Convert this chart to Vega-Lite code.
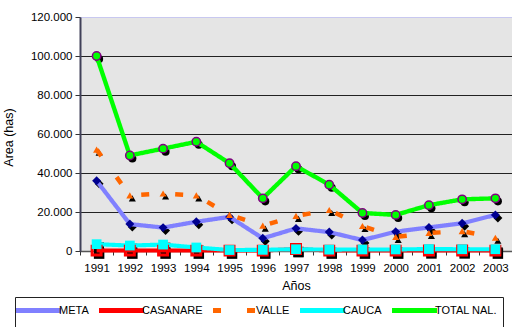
{
  "$schema": "https://vega.github.io/schema/vega-lite/v6.json",
  "width": 432,
  "height": 234,
  "autosize": {"type": "none"},
  "padding": {"left": 80, "top": 17, "right": 0, "bottom": 76},
  "background": "white",
  "config": {
    "font": "Liberation Sans",
    "view": {"fill": "#e5e5e5", "stroke": "#9a9aa8", "strokeWidth": 1},
    "axis": {"labelFont": "Liberation Sans", "titleFont": "Liberation Sans", "labelColor": "black", "titleColor": "black", "labelFontSize": 11.5, "titleFontSize": 12.5, "titleFontWeight": "normal"},
    "legend": {"labelFont": "Liberation Sans"}
  },
  "data": {"values": [
    {"year": "1991", "series": "META", "value": 36000},
    {"year": "1992", "series": "META", "value": 13800},
    {"year": "1993", "series": "META", "value": 12000},
    {"year": "1994", "series": "META", "value": 15000},
    {"year": "1995", "series": "META", "value": 17500},
    {"year": "1996", "series": "META", "value": 6500},
    {"year": "1997", "series": "META", "value": 11600},
    {"year": "1998", "series": "META", "value": 9700},
    {"year": "1999", "series": "META", "value": 5600},
    {"year": "2000", "series": "META", "value": 9900},
    {"year": "2001", "series": "META", "value": 12100},
    {"year": "2002", "series": "META", "value": 14200},
    {"year": "2003", "series": "META", "value": 18500},
    {"year": "1991", "series": "CASANARE", "value": 200},
    {"year": "1992", "series": "CASANARE", "value": 200},
    {"year": "1993", "series": "CASANARE", "value": 200},
    {"year": "1994", "series": "CASANARE", "value": 200},
    {"year": "1995", "series": "CASANARE", "value": 200},
    {"year": "1996", "series": "CASANARE", "value": 200},
    {"year": "1997", "series": "CASANARE", "value": 1000},
    {"year": "1998", "series": "CASANARE", "value": 200},
    {"year": "1999", "series": "CASANARE", "value": 200},
    {"year": "2000", "series": "CASANARE", "value": 200},
    {"year": "2001", "series": "CASANARE", "value": 300},
    {"year": "2002", "series": "CASANARE", "value": 300},
    {"year": "2003", "series": "CASANARE", "value": 200},
    {"year": "1991", "series": "VALLE", "value": 52000},
    {"year": "1992", "series": "VALLE", "value": 28500},
    {"year": "1993", "series": "VALLE", "value": 29500},
    {"year": "1994", "series": "VALLE", "value": 28500},
    {"year": "1995", "series": "VALLE", "value": 18500},
    {"year": "1996", "series": "VALLE", "value": 13000},
    {"year": "1997", "series": "VALLE", "value": 18000},
    {"year": "1998", "series": "VALLE", "value": 21000},
    {"year": "1999", "series": "VALLE", "value": 12800},
    {"year": "2000", "series": "VALLE", "value": 7200},
    {"year": "2001", "series": "VALLE", "value": 9200},
    {"year": "2002", "series": "VALLE", "value": 10200},
    {"year": "2003", "series": "VALLE", "value": 6800},
    {"year": "1991", "series": "CAUCA", "value": 3500},
    {"year": "1992", "series": "CAUCA", "value": 2800},
    {"year": "1993", "series": "CAUCA", "value": 3300},
    {"year": "1994", "series": "CAUCA", "value": 1800},
    {"year": "1995", "series": "CAUCA", "value": 500},
    {"year": "1996", "series": "CAUCA", "value": 600},
    {"year": "1997", "series": "CAUCA", "value": 900},
    {"year": "1998", "series": "CAUCA", "value": 700},
    {"year": "1999", "series": "CAUCA", "value": 800},
    {"year": "2000", "series": "CAUCA", "value": 800},
    {"year": "2001", "series": "CAUCA", "value": 1000},
    {"year": "2002", "series": "CAUCA", "value": 900},
    {"year": "2003", "series": "CAUCA", "value": 900},
    {"year": "1991", "series": "TOTAL NAL.", "value": 100000},
    {"year": "1992", "series": "TOTAL NAL.", "value": 49000},
    {"year": "1993", "series": "TOTAL NAL.", "value": 52500},
    {"year": "1994", "series": "TOTAL NAL.", "value": 56000},
    {"year": "1995", "series": "TOTAL NAL.", "value": 45000},
    {"year": "1996", "series": "TOTAL NAL.", "value": 27000},
    {"year": "1997", "series": "TOTAL NAL.", "value": 43500},
    {"year": "1998", "series": "TOTAL NAL.", "value": 34000},
    {"year": "1999", "series": "TOTAL NAL.", "value": 19500},
    {"year": "2000", "series": "TOTAL NAL.", "value": 18500},
    {"year": "2001", "series": "TOTAL NAL.", "value": 23500},
    {"year": "2002", "series": "TOTAL NAL.", "value": 26500},
    {"year": "2003", "series": "TOTAL NAL.", "value": 27000}
  ]},
  "encoding": {
    "x": {
      "field": "year", "type": "ordinal", "title": "Años",
      "scale": {"type": "band", "paddingInner": 0, "paddingOuter": 0},
      "axis": {"labelAngle": 0, "tickBand": "extent", "tickSize": 4, "tickColor": "#333", "domainColor": "#555", "domainWidth": 1.5, "labelPadding": 7, "titlePadding": 6, "grid": false}
    },
    "y": {
      "field": "value", "type": "quantitative", "title": "Area (has)",
      "scale": {"domain": [0, 120000], "nice": false},
      "axis": {
        "values": [0, 20000, 40000, 60000, 80000, 100000, 120000],
        "labelExpr": "replace(format(datum.value, ',.0f'), ',', '.')",
        "grid": true,
        "gridColor": {"condition": {"test": "datum.value == 120000", "value": "#c8c8f0"}, "value": "#222222"},
        "gridWidth": 1,
        "domainColor": "#404058", "domainWidth": 2,
        "tickColor": "#333", "tickSize": 5, "labelPadding": 3,
        "titleX": -65, "titleY": 120
      }
    }
  },
  "layer": [
    {
      "mark": {"type": "point", "filled": true, "fill": "black", "stroke": null, "opacity": 1, "xOffset": 2.5, "yOffset": 3},
      "encoding": {
        "shape": {"field": "series", "type": "nominal", "scale": {"domain": ["CASANARE", "CAUCA", "META", "TOTAL NAL.", "VALLE"], "range": ["square", "square", "diamond", "circle", "triangle-up"]}, "legend": null},
        "size": {"field": "series", "type": "ordinal", "scale": {"domain": ["CASANARE", "CAUCA", "META", "TOTAL NAL.", "VALLE"], "range": [110, 50, 75, 80, 110]}, "legend": null}
      }
    },
    {
      "mark": {"type": "line"},
      "encoding": {
        "color": {
          "field": "series", "type": "nominal", "title": null,
          "scale": {"domain": ["META", "CASANARE", "VALLE", "CAUCA", "TOTAL NAL."], "range": ["#8080ff", "#ff0000", "#ff6600", "#00ffff", "#00ff00"]},
          "legend": {"orient": "none", "legendX": -65, "legendY": 280, "direction": "horizontal", "gridAlign": "none", "symbolType": "M-4.5,0H4.5", "symbolSize": 100, "symbolOffset": 10, "symbolStrokeWidth": 5, "labelFontSize": 11, "labelColor": "black", "labelOffset": 13, "columnPadding": 0, "padding": 6, "strokeColor": "#222", "fillColor": "white"}
        },
        "strokeDash": {
          "field": "series", "type": "nominal", "title": null,
          "scale": {"domain": ["META", "CASANARE", "VALLE", "CAUCA", "TOTAL NAL."], "range": [[1, 0], [1, 0], [8, 26], [1, 0], [1, 0]]},
          "legend": {"orient": "none", "legendX": -65, "legendY": 280, "direction": "horizontal", "gridAlign": "none", "symbolType": "M-4.5,0H4.5", "symbolSize": 100, "symbolOffset": 10, "symbolStrokeWidth": 5, "labelFontSize": 11, "labelColor": "black", "labelOffset": 13, "columnPadding": 0, "padding": 6, "strokeColor": "#222", "fillColor": "white"}
        },
        "strokeWidth": {"field": "series", "type": "nominal", "scale": {"domain": ["CASANARE", "CAUCA", "META", "TOTAL NAL.", "VALLE"], "range": [4, 4.5, 5, 3, 4]}, "legend": null}
      }
    },
    {
      "transform": [{"filter": "datum.series == 'CASANARE'"}],
      "mark": {"type": "point", "shape": "square", "filled": false, "stroke": "#ff0000", "strokeWidth": 3, "size": 80, "opacity": 1}
    },
    {
      "transform": [{"filter": "datum.series == 'META' || datum.series == 'VALLE' || datum.series == 'CAUCA'"}],
      "mark": {"type": "point", "filled": true, "opacity": 1},
      "encoding": {
        "shape": {"field": "series", "type": "nominal", "scale": {"domain": ["CASANARE", "CAUCA", "META", "TOTAL NAL.", "VALLE"], "range": ["square", "square", "diamond", "circle", "triangle-up"]}, "legend": null},
        "size": {"field": "series", "type": "ordinal", "scale": {"domain": ["CASANARE", "CAUCA", "META", "TOTAL NAL.", "VALLE"], "range": [110, 50, 75, 80, 110]}, "legend": null},
        "fill": {"field": "series", "type": "nominal", "scale": {"domain": ["CASANARE", "CAUCA", "META", "TOTAL NAL.", "VALLE"], "range": ["#ff0000", "#00ffff", "#000090", "#00ff00", "#ff6600"]}, "legend": null}
      }
    },
    {
      "transform": [{"filter": "datum.series == 'TOTAL NAL.'"}],
      "mark": {"type": "point", "shape": "circle", "filled": false, "fill": "#00ff00", "stroke": "#800080", "strokeWidth": 1.5, "size": 70, "opacity": 1}
    }
  ]
}
